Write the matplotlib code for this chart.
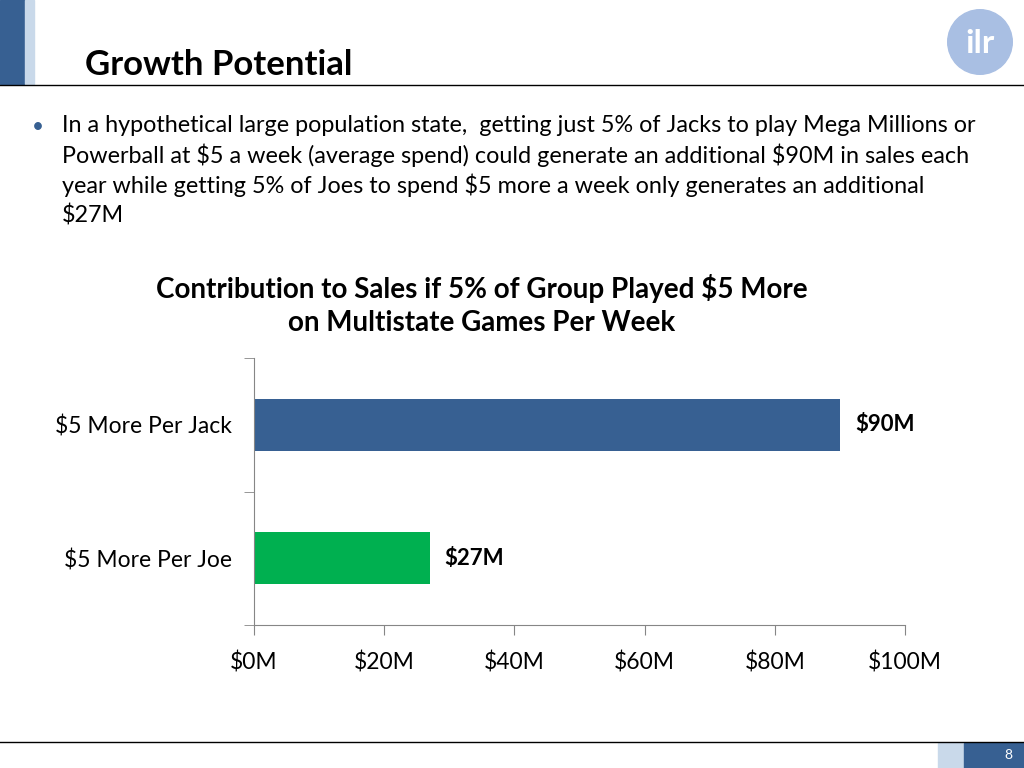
import matplotlib
matplotlib.use("Agg")
import matplotlib.pyplot as plt
from matplotlib.patches import Rectangle, Circle

plt.rcParams['font.family'] = ['Lato', 'DejaVu Sans']
plt.rcParams['text.parse_math'] = False

categories = ["$5 More Per Joe", "$5 More Per Jack"]
values = [27, 90]
bar_colors = ["#00B050", "#376092"]
value_labels = ["$27M", "$90M"]
xticks = [0, 20, 40, 60, 80, 100]
xtick_labels = ["$0M", "$20M", "$40M", "$60M", "$80M", "$100M"]
body_lines = [
    "In a hypothetical large population state,  getting just 5% of Jacks to play Mega Millions or",
    "Powerball at $5 a week (average spend) could generate an additional $90M in sales each",
    "year while getting 5% of Joes to spend $5 more a week only generates an additional",
    "$27M",
]

fig = plt.figure(figsize=(10.24, 7.68), dpi=100)

# slide decorations
fig.patches.append(Rectangle((0, 1 - 84/768), 25/1024, 84/768, transform=fig.transFigure, color="#376092", zorder=0))
fig.patches.append(Rectangle((25/1024, 1 - 84/768), 9/1024, 84/768, transform=fig.transFigure, color="#C9D9EA", zorder=0))
fig.add_artist(plt.Line2D([0, 1], [1 - 85/768] * 2, color="black", lw=1))
fig.add_artist(plt.Line2D([0, 1], [1 - 742/768] * 2, color="black", lw=1))
fig.patches.append(Rectangle((938/1024, 0), 26/1024, 25/768, transform=fig.transFigure, color="#C9D9EA"))
fig.patches.append(Rectangle((964/1024, 0), 60/1024, 25/768, transform=fig.transFigure, color="#376092"))
fig.text(1012/1024, 1 - 755/768, "8", color="white", fontsize=10, ha="right", va="center")
# logo
lax = fig.add_axes([946/1024, 1 - 76/768, 68/1024, 68/768])
lax.set_xlim(-1, 1); lax.set_ylim(-1, 1); lax.axis("off")
lax.add_patch(Circle((0, 0), 0.95, color="#A9BFE3"))
lax.text(0, -0.05, "ilr", color="white", fontsize=24, fontweight="bold", ha="center", va="center")

fig.text(85/1024, 1 - 65/768, "Growth Potential", fontsize=25, fontweight="bold", ha="left", va="center")
fig.text(32/1024, 1 - 127/768, "•", fontsize=15, color="#376092", ha="left", va="center")
for i, line in enumerate(body_lines):
    fig.text(62/1024, 1 - (126 + 29.7 * i)/768, line, fontsize=16.8, ha="left", va="center")

fig.text(482/1024, 1 - 305/768, "Contribution to Sales if 5% of Group Played $5 More\non Multistate Games Per Week",
         fontsize=20, fontweight="bold", ha="center", va="center", linespacing=1.35)

ax = fig.add_axes([254/1024, 1 - 625/768, 651/1024, 267/768])
y = list(range(len(categories)))
ax.barh(y, values, height=0.39, color=bar_colors)
for yi, v, lab in zip(y, values, value_labels):
    ax.text(v + 2.3, yi, lab, fontsize=16, fontweight="bold", va="center", ha="left")
ax.set_xlim(0, 100)
ax.set_ylim(-0.5, 1.5)
ax.set_xticks(xticks)
ax.set_xticklabels(xtick_labels, fontsize=16.5)
ax.set_yticks(y)
ax.set_yticklabels(categories, fontsize=16.5)
ax.set_yticks([-0.5, 0.5, 1.5], minor=True)
ax.tick_params(axis="y", which="major", length=0, pad=16)
ax.tick_params(axis="y", which="minor", length=7, direction="out", color="#868686")
ax.tick_params(axis="x", length=7, direction="out", color="#868686", pad=12)
for s in ["top", "right"]:
    ax.spines[s].set_visible(False)
for s in ["left", "bottom"]:
    ax.spines[s].set_color("#868686")

fig.savefig("out.png", dpi=100)
